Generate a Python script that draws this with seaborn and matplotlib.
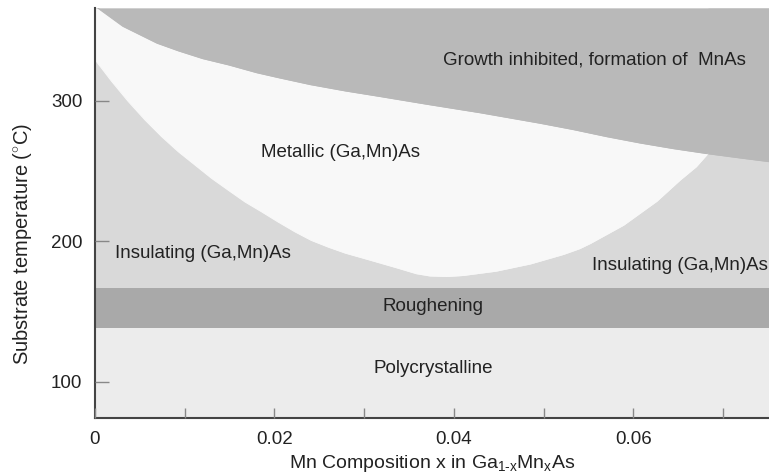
import matplotlib
matplotlib.use("Agg")
import matplotlib.pyplot as plt
import seaborn as sns
import pandas as pd

# Lower edge of the metallic (Ga,Mn)As window
metal_x = [0.0, 0.00186, 0.00371, 0.00557, 0.00743, 0.00928, 0.01114, 0.0130,
           0.01485, 0.0167, 0.01857, 0.0204, 0.0223, 0.0241, 0.0260, 0.0279,
           0.0299, 0.0336, 0.0358, 0.0373, 0.0392, 0.0410, 0.0447, 0.0485,
           0.0522, 0.0540, 0.0552, 0.0589, 0.0626, 0.0652, 0.0670, 0.0683]
metal_T = [329.3, 313.8, 299.5, 286.4, 274.5, 263.8, 254.3, 244.8,
           236.4, 228.1, 221.0, 213.8, 206.7, 200.7, 195.9, 191.6,
           188.0, 181.2, 177.0, 175.4, 175.0, 175.7, 178.8, 183.9,
           190.7, 194.8, 198.5, 211.5, 228.5, 243.6, 253.1, 262.5]

# Onset of MnAs formation (growth inhibited above this line)
growth_x = [0.0003, 0.0031, 0.0069, 0.0093, 0.0120, 0.0149, 0.0180, 0.0204,
            0.0240, 0.0279, 0.0318, 0.0370, 0.0429, 0.0496, 0.0533, 0.0570,
            0.0607, 0.0644, 0.0681, 0.0719, 0.0751]
growth_T = [366.0, 353.0, 341.0, 335.5, 330.0, 325.5, 320.0, 316.5,
            311.5, 307.0, 303.0, 297.5, 291.5, 284.0, 279.5, 274.5,
            270.0, 266.0, 262.5, 259.3, 256.7]

# Horizontal band limits
rough_low, rough_high = 138.0, 167.0

x_range = (0.0, 0.0751)
T_range = (74.3, 366.0)

x_ticks = [0.0, 0.02, 0.04, 0.06]
x_tick_labels = ["0", "0.02", "0.04", "0.06"]
x_minor = [0.01, 0.03, 0.05, 0.07]
y_ticks = [100, 200, 300]

region_labels = ["Growth inhibited, formation of  MnAs", "Metallic (Ga,Mn)As",
                 "Insulating (Ga,Mn)As", "Insulating (Ga,Mn)As",
                 "Roughening", "Polycrystalline"]

sns.set_theme(style="ticks")
plt.rcParams["font.family"] = ["Liberation Sans", "DejaVu Sans"]
plt.rcParams["mathtext.fontset"] = "custom"
plt.rcParams["mathtext.rm"] = "Liberation Sans"
plt.rcParams["mathtext.it"] = "Liberation Sans"

fig = plt.figure(figsize=(7.69, 4.73), dpi=100)
ax = fig.add_axes([95 / 769, 1 - 418 / 473, 1 - 95 / 769, (418 - 8) / 473])
ax.set_axisbelow(False)

c_poly = "#ececec"
c_rough = "#a9a9a9"
c_insul = "#d9d9d9"
c_metal = "#f8f8f8"
c_growth = "#b9b9b9"

xa, xb = x_range
ya, yb = T_range
ax.fill_between([xa, xb], [ya, ya], [rough_low, rough_low], color=c_poly, lw=0)
ax.fill_between([xa, xb], [rough_low, rough_low], [rough_high, rough_high], color=c_rough, lw=0)
ax.fill_between([xa, xb], [rough_high, rough_high], [yb, yb], color=c_insul, lw=0)
ax.fill_between(metal_x, metal_T, [yb] * len(metal_x), color=c_metal, lw=0)
ax.fill_between(growth_x, growth_T, [yb] * len(growth_x), color=c_growth, lw=0)

# Boundary lines drawn in the fill colours so the edges stay crisp
metal_df = pd.DataFrame({"x": metal_x, "T": metal_T})
growth_df = pd.DataFrame({"x": growth_x, "T": growth_T})
sns.lineplot(data=metal_df, x="x", y="T", ax=ax, color=c_metal, lw=0.8, sort=False)
sns.lineplot(data=growth_df, x="x", y="T", ax=ax, color=c_growth, lw=0.8, sort=False)

ax.set_xlim(*x_range)
ax.set_ylim(*T_range)

txt = dict(color="#222222", fontsize=13.5)
ax.text(0.0557, 329, region_labels[0], ha="center", va="center", **txt)
ax.text(0.0274, 263.5, region_labels[1], ha="center", va="center", **txt)
ax.text(0.0022, 191.5, region_labels[2], ha="left", va="center", **txt)
ax.text(0.0554, 183, region_labels[3], ha="left", va="center", **txt)
ax.text(0.0377, 153.5, region_labels[4], ha="center", va="center", **txt)
ax.text(0.0377, 109.5, region_labels[5], ha="center", va="center", **txt)

ax.set_xticks(x_ticks)
ax.set_xticklabels(x_tick_labels)
ax.set_xticks(x_minor, minor=True)
ax.set_yticks(y_ticks)
ax.tick_params(axis="both", which="both", direction="in", colors="#888888",
               labelcolor="#222222", labelsize=13.5, width=1.0)
ax.tick_params(axis="x", which="major", length=7, pad=9)
ax.tick_params(axis="x", which="minor", length=7)
ax.tick_params(axis="y", which="major", length=10, pad=9)

ax.set_xlabel(r"Mn Composition x in Ga$_{\mathregular{1\text{-}x}}$Mn$_{\mathregular{x}}$As",
              fontsize=14, color="#222222", labelpad=4)
ax.set_ylabel(r"Substrate temperature ($^{\circ}$C)", fontsize=14.5, color="#222222")
ax.yaxis.set_label_coords(-0.090, 0.424)

for side in ("top", "right"):
    ax.spines[side].set_visible(False)
for side in ("left", "bottom"):
    ax.spines[side].set_color("#444444")
    ax.spines[side].set_linewidth(1.5)

fig.savefig("out.png", dpi=100)
